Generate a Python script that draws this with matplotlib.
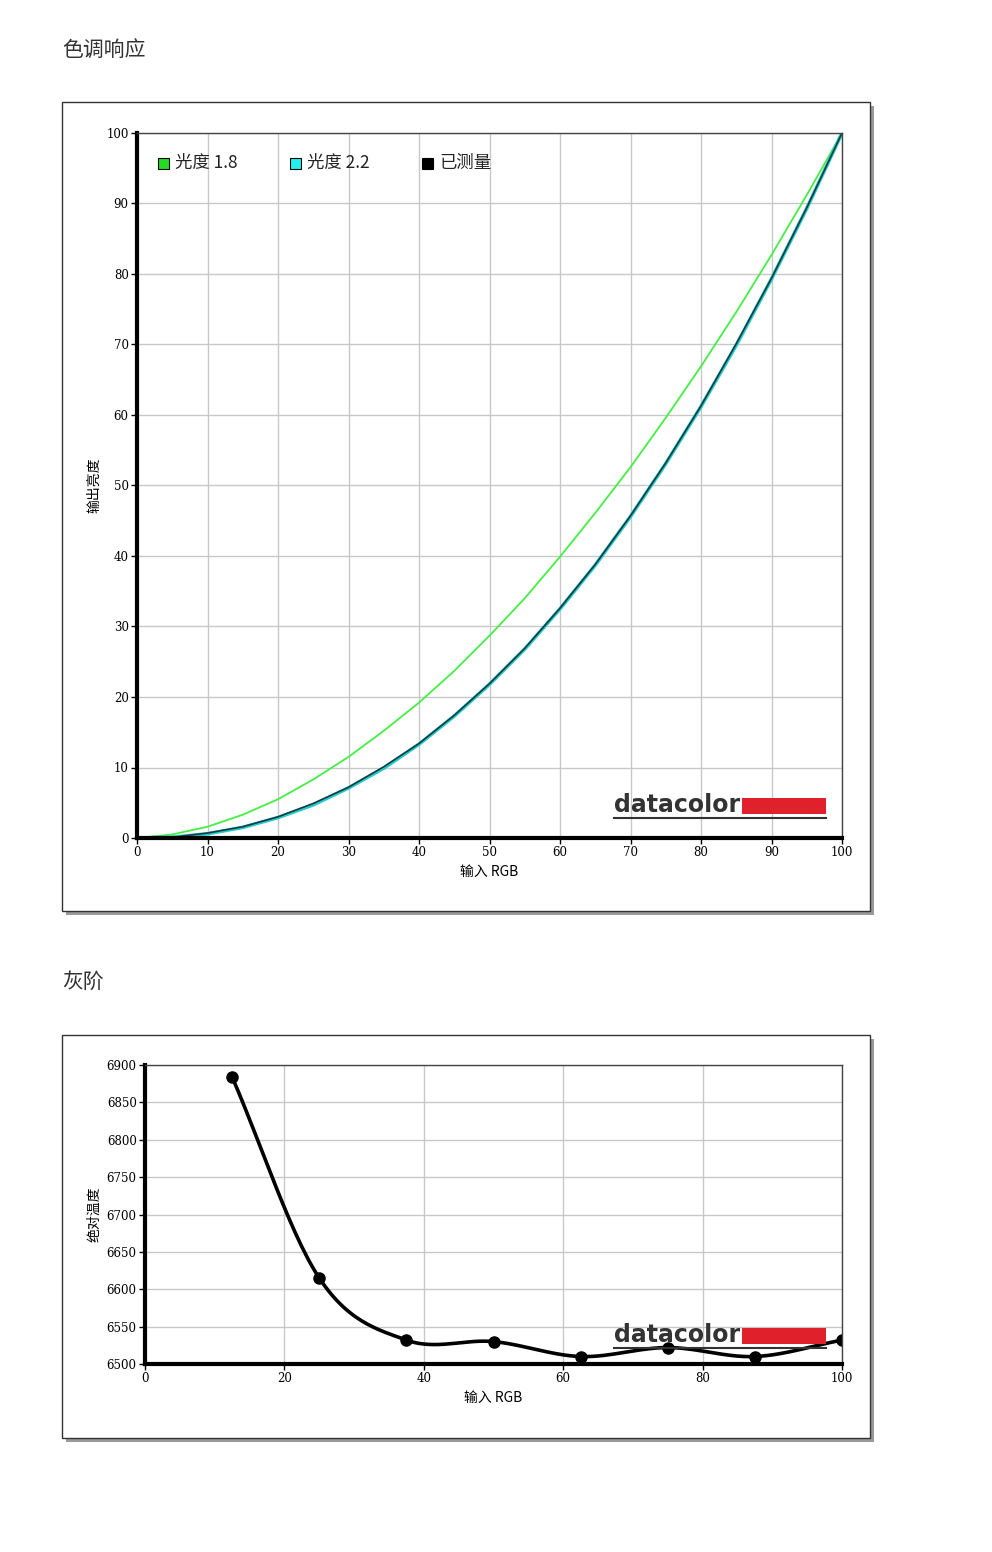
import numpy as np
import matplotlib.pyplot as plt
from matplotlib.patches import Rectangle

plt.rcParams['font.family'] = ['Noto Sans CJK SC', 'DejaVu Sans']

# tone response, read at every 5 units of input
rgb_in = [0, 5, 10, 15, 20, 25, 30, 35, 40, 45, 50, 55, 60, 65, 70, 75, 80, 85, 90, 95, 100]
gamma18 = [0, 0.5, 1.6, 3.3, 5.5, 8.3, 11.5, 15.2, 19.2, 23.7, 28.7, 34.0, 39.9, 46.1, 52.6, 59.6, 66.9, 74.6, 82.7, 91.2, 100]
gamma22 = [0, 0.1, 0.6, 1.5, 2.9, 4.7, 7.1, 9.9, 13.3, 17.3, 21.8, 26.8, 32.5, 38.7, 45.6, 53.1, 61.2, 69.9, 79.3, 89.3, 100]
measured = [0, 0.1, 0.7, 1.6, 3.0, 4.9, 7.2, 10.1, 13.4, 17.4, 21.9, 26.9, 32.6, 38.8, 45.7, 53.2, 61.3, 70.1, 79.4, 89.4, 100]

# gray scale colour temperature
gray_in = [12.5, 25, 37.5, 50, 62.5, 75, 87.5, 100]
gray_cct = [6884, 6615, 6532, 6530, 6510, 6522, 6510, 6532]

W, H = 992, 1552
fig = plt.figure(figsize=(W / 100, H / 100), dpi=100)


def frac(x0, y0, x1, y1):
    return [x0 / W, 1 - y1 / H, (x1 - x0) / W, (y1 - y0) / H]


def box(x0, y0, x1, y1):
    fig.patches.append(Rectangle((x0 / W + 4 / W, 1 - y1 / H - 4 / H), (x1 - x0) / W, (y1 - y0) / H,
                                 transform=fig.transFigure, facecolor='#9a9a9a', edgecolor='none', zorder=-3))
    fig.patches.append(Rectangle((x0 / W, 1 - y1 / H), (x1 - x0) / W, (y1 - y0) / H,
                                 transform=fig.transFigure, facecolor='white', edgecolor='#333333', lw=1, zorder=-2))


def logo(x0, x1, ybase):
    fig.text(x0 / W, 1 - ybase / H, 'datacolor', fontsize=17, fontweight='bold', color='#333333',
             family='DejaVu Sans', va='baseline', ha='left', zorder=6)
    fig.patches.append(Rectangle((742 / W, 1 - (ybase + 2) / H), (x1 - 742) / W, 16 / H,
                                 transform=fig.transFigure, facecolor='#e0202a', edgecolor='none', zorder=5))
    fig.lines.append(plt.Line2D([x0 / W, x1 / W], [1 - (ybase + 6) / H] * 2, transform=fig.transFigure,
                                color='#333333', lw=1.5, zorder=5))


def catmull(xs, ys, n=30):
    xs, ys = np.asarray(xs, float), np.asarray(ys, float)
    px = np.concatenate([[2 * xs[0] - xs[1]], xs, [2 * xs[-1] - xs[-2]]])
    py = np.concatenate([[2 * ys[0] - ys[1]], ys, [2 * ys[-1] - ys[-2]]])
    outx, outy = [], []
    t = np.linspace(0, 1, n)
    for i in range(1, len(px) - 2):
        for p, out in ((px, outx), (py, outy)):
            a, b, c, d = p[i - 1], p[i], p[i + 1], p[i + 2]
            out.extend(0.5 * (2 * b + (-a + c) * t + (2 * a - 5 * b + 4 * c - d) * t ** 2
                              + (-a + 3 * b - 3 * c + d) * t ** 3))
    return outx, outy


def style(ax):
    ax.set_zorder(1)
    ax.patch.set_alpha(0)
    ax.grid(True, color='#c8c8c8', lw=1)
    ax.set_axisbelow(True)
    for s in ('top', 'right'):
        ax.spines[s].set_color('#444444')
        ax.spines[s].set_linewidth(1)
    ax.spines['left'].set_linewidth(3)
    ax.spines['bottom'].set_linewidth(3)
    ax.tick_params(length=4, width=1, labelsize=8.5, pad=2)
    for lab in ax.get_xticklabels() + ax.get_yticklabels():
        lab.set_family('DejaVu Serif')


# titles
fig.text(62 / W, 1 - 50 / H, '色调响应', fontsize=15, color='#333333', va='center')
fig.text(62 / W, 1 - 982 / H, '灰阶', fontsize=15, color='#333333', va='center')

# top chart
box(62, 102, 870, 911)
ax1 = fig.add_axes(frac(137, 133, 842, 838))
ax1.plot(rgb_in, gamma18, color='#44ee44', lw=1.3)
ax1.plot(rgb_in, gamma22, color='#22cccc', lw=2.6)
ax1.plot(rgb_in, measured, color='#1a3a40', lw=1.2)
ax1.set_xlim(0, 100)
ax1.set_ylim(0, 100)
ax1.set_xticks(range(0, 101, 10))
ax1.set_yticks(range(0, 101, 10))
style(ax1)
ax1.set_xlabel('输入 RGB', fontsize=10)
ax1.set_ylabel('输出亮度', fontsize=10)
for i, (lab, col) in enumerate([('光度 1.8', '#22dd22'), ('光度 2.2', '#22eeee'), ('已测量', '#000000')]):
    x = 158 + i * 132
    fig.patches.append(Rectangle((x / W, 1 - 169 / H), 11 / W, 11 / H, transform=fig.transFigure,
                                 facecolor=col, edgecolor='black', lw=0.8, zorder=5))
    fig.text((x + 17) / W, 1 - 163 / H, lab, fontsize=12.5, va='center', color='#222222', zorder=6)
logo(614, 826, 812)

# bottom chart
box(62, 1035, 870, 1438)
ax2 = fig.add_axes(frac(145, 1065, 842, 1364))
sx, sy = catmull(gray_in, gray_cct)
ax2.plot(sx, sy, color='black', lw=2.6)
ax2.plot(gray_in, gray_cct, 'o', color='black', ms=8)
ax2.set_xlim(0, 100)
ax2.set_ylim(6500, 6900)
ax2.set_xticks(range(0, 101, 20))
ax2.set_yticks(range(6500, 6901, 50))
style(ax2)
ax2.set_xlabel('输入 RGB', fontsize=10)
ax2.set_ylabel('绝对温度', fontsize=10)
logo(614, 826, 1342)

fig.savefig('out.png', dpi=100)
